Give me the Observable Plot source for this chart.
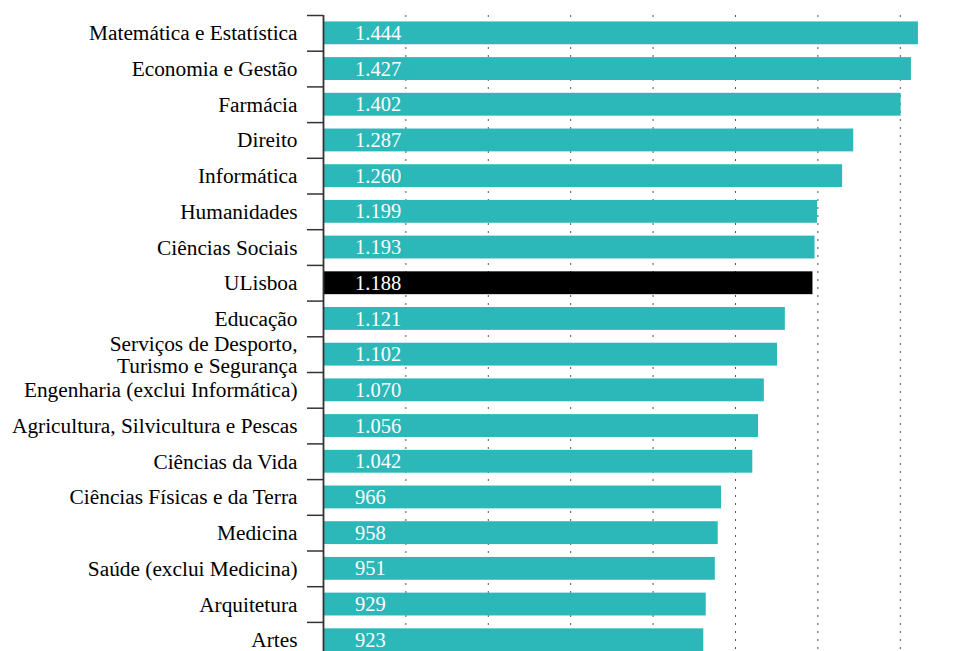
<!DOCTYPE html>
<html>
<head>
<meta charset="utf-8">
<script src="https://cdn.jsdelivr.net/npm/d3@7"></script>
<script src="https://cdn.jsdelivr.net/npm/@observablehq/plot@0.6"></script>
<style>
  html, body { margin: 0; padding: 0; background: #fff; font-family: 'Liberation Serif'; }
  #chart svg { display: block; }
</style>
</head>
<body>
<div id="chart"></div>
<script>
const categories = [
  "Matemática e Estatística",
  "Economia e Gestão",
  "Farmácia",
  "Direito",
  "Informática",
  "Humanidades",
  "Ciências Sociais",
  "ULisboa",
  "Educação",
  "Serviços de Desporto,\nTurismo e Segurança",
  "Engenharia (exclui Informática)",
  "Agricultura, Silvicultura e Pescas",
  "Ciências da Vida",
  "Ciências Físicas e da Terra",
  "Medicina",
  "Saúde (exclui Medicina)",
  "Arquitetura",
  "Artes"
];
const values = [1444, 1427, 1402, 1287, 1260, 1199, 1193, 1188, 1121, 1102, 1070, 1056, 1042, 966, 958, 951, 929, 923];
const highlight = "ULisboa";
const gridTicks = [200, 400, 600, 800, 1000, 1200, 1400];

const data = categories.map((c, i) => ({category: c, value: values[i]}));
const fmt = d3.formatLocale({decimal: ",", thousands: ".", grouping: [3], currency: ["", "€"]}).format(",d");

const FONT = "Liberation Serif";
const height = 700, marginTop = 15, marginBottom = 42.4;
const step = (height - marginTop - marginBottom) / categories.length;

const chart = Plot.plot({
  width: 973,
  height,
  marginTop,
  marginBottom,
  marginLeft: 323,
  marginRight: 32,
  style: {fontFamily: FONT, fontSize: "21.33px", background: "#fff", color: "#000"},
  x: {domain: [0, 1500], axis: null},
  y: {domain: categories, paddingInner: 0.36, paddingOuter: 0.18, round: false, label: null},
  marks: [
    Plot.ruleX(gridTicks, {stroke: "#555", strokeWidth: 1, strokeDasharray: "2,6"}),
    Plot.barX(data, {
      x: "value",
      y: "category",
      fill: d => d.category === highlight ? "#000000" : "#2CB7B8"
    }),
    Plot.text(data, {
      x: 0,
      y: "category",
      text: d => fmt(d.value),
      textAnchor: "start",
      dx: 31.5,
      fill: "#fff",
      fontSize: 20.5,
      fontFamily: FONT
    }),
    Plot.axisY({tickSize: 16, tickPadding: 0, tickFormat: () => "", dy: -step / 2, stroke: "#333", strokeWidth: 1.5}),
    Plot.axisY({tickSize: 0, tickPadding: 26, fontSize: 21.33, lineHeight: 1.03, fontFamily: FONT, fill: "#000", label: null}),
    Plot.ruleX([0], {stroke: "#333", strokeWidth: 1.8})
  ]
});
d3.select(chart).selectAll("text, tspan")
  .attr("font-family", FONT)
  .style("font-family", FONT, "important");
document.getElementById("chart").appendChild(chart);
</script>
</body>
</html>
